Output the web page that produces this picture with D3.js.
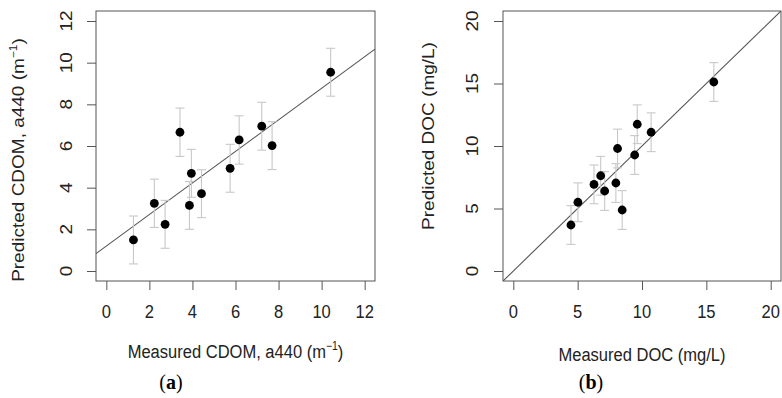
<!DOCTYPE html>
<html><head><meta charset="utf-8">
<script src="https://cdn.jsdelivr.net/npm/d3@7"></script>
<style>body{margin:0;background:#fff}svg{display:block}</style>
</head><body><svg id="c" width="782" height="398"></svg>
<script>
// Panel (a): CDOM
const cdomMeasured  = [1.26, 2.23, 2.73, 3.42, 3.86, 3.95, 4.42, 5.75, 6.17, 7.22, 7.70, 10.42];
const cdomPredicted = [1.49, 3.25, 2.24, 6.66, 3.15, 4.69, 3.71, 4.93, 6.29, 6.95, 6.02, 9.54];
const cdomError     = [1.15, 1.16, 1.15, 1.16, 1.15, 1.15, 1.15, 1.15, 1.16, 1.15, 1.15, 1.15];
const cdomFit       = [1.2, 0.757]; // intercept, slope
const cdomTicks     = [0, 2, 4, 6, 8, 10, 12];
// Panel (b): DOC
const docMeasured   = [4.48, 5.02, 6.27, 6.79, 7.10, 7.97, 8.10, 8.46, 9.43, 9.63, 10.71, 15.58];
const docPredicted  = [3.68, 5.50, 6.93, 7.62, 6.40, 7.04, 9.80, 4.88, 9.28, 11.74, 11.10, 15.12];
const docError      = [1.55, 1.55, 1.55, 1.55, 1.55, 1.55, 1.55, 1.55, 1.55, 1.55, 1.55, 1.55];
const docFit        = [0, 1];
const docTicks      = [0, 5, 10, 15, 20];

const svg = d3.select("#c");
const FS = 19, SX = 0.87;
const SANS = "Liberation Sans, Arial, sans-serif";

function hText(g, x, y){
  return g.append("text").attr("transform",`translate(${x},${y}) scale(${SX},1)`)
    .attr("text-anchor","middle").style("font-family",SANS).style("font-size",FS+"px").attr("fill","#222");
}
function vText(g, x, y){
  return g.append("text").attr("transform",`translate(${x},${y}) rotate(-90) scale(1,${SX})`)
    .attr("text-anchor","middle").style("font-family",SANS).style("font-size",FS+"px").attr("fill","#222");
}

function panel(o){
  const x = d3.scaleLinear().domain(o.dom).range([o.x0, o.x1]);
  const y = d3.scaleLinear().domain(o.dom).range([o.y1, o.y0]);
  const g = svg.append("g");
  // tick marks
  const xa = g.append("g").attr("transform",`translate(0,${o.y1})`)
    .call(d3.axisBottom(x).tickValues(o.ticks).tickSize(9).tickFormat(""));
  const ya = g.append("g").attr("transform",`translate(${o.x0},0)`)
    .call(d3.axisLeft(y).tickValues(o.ticks).tickSize(9).tickFormat(""));
  [xa, ya].forEach(a => { a.select(".domain").remove(); a.selectAll("line").attr("stroke","#555"); a.selectAll("text").remove(); });
  // tick labels
  o.ticks.forEach(t => {
    hText(g, x(t), 318).text(d3.format("d")(t));
    vText(g, o.ylabX, y(t)).attr("dy","0.36em").text(d3.format("d")(t));
  });
  // clip
  const cid = "clip"+o.id;
  svg.append("clipPath").attr("id",cid).append("rect").attr("x",o.x0).attr("y",o.y0).attr("width",o.x1-o.x0).attr("height",o.y1-o.y0);
  const pg = g.append("g").attr("clip-path",`url(#${cid})`);
  // fit line
  const d0 = o.dom[0], d1 = o.dom[1];
  pg.append("line").attr("x1",x(d0)).attr("y1",y(o.fit[0]+o.fit[1]*d0)).attr("x2",x(d1)).attr("y2",y(o.fit[0]+o.fit[1]*d1))
    .attr("stroke","#555").attr("stroke-width",1.1);
  // error bars
  const idx = d3.range(o.mx.length);
  const eb = g.append("g").attr("stroke","#c8c8c8").attr("stroke-width",1.1);
  idx.forEach(i=>{
    const cx = x(o.mx[i]), t = y(o.py[i]+o.err[i]), b = y(o.py[i]-o.err[i]);
    eb.append("line").attr("x1",cx).attr("x2",cx).attr("y1",t).attr("y2",b);
    eb.append("line").attr("x1",cx-4.5).attr("x2",cx+4.5).attr("y1",t).attr("y2",t);
    eb.append("line").attr("x1",cx-4.5).attr("x2",cx+4.5).attr("y1",b).attr("y2",b);
  });
  g.append("g").selectAll("circle").data(idx).join("circle")
    .attr("cx",i=>x(o.mx[i])).attr("cy",i=>y(o.py[i])).attr("r",4.4).attr("fill","#000");
  // box
  g.append("rect").attr("x",o.x0).attr("y",o.y0).attr("width",o.x1-o.x0).attr("height",o.y1-o.y0)
    .attr("fill","none").attr("stroke","#555").attr("stroke-width",1);
  // titles
  o.xtitle(hText(g, (o.x0+o.x1)/2, o.xtY));
  o.ytitle(vText(g, o.ytX, o.ytC));
  svg.append("text").attr("transform",`translate(${o.tagX},389) scale(1,1.1)`).attr("text-anchor","middle")
    .style("font-family","Liberation Serif, 'DejaVu Serif', serif").style("font-size","20px").attr("fill","#000")
    .call(t=>{t.append("tspan").text("(");t.append("tspan").style("font-weight","bold").text(o.tag);t.append("tspan").text(")");});
}
function supTitle(pre){
  return t => { t.append("tspan").text(pre+" (m"); t.append("tspan").attr("dy",-8).style("font-size","12px").text("\u22121"); t.append("tspan").attr("dy",8).text(")"); };
}
panel({id:"a", dom:[-0.48,12.48], x0:96, x1:375, y0:11, y1:281, ticks:cdomTicks, mx:cdomMeasured, py:cdomPredicted, err:cdomError, fit:cdomFit,
  ylabX:66, xtY:358, ytX:24, ytC:160, tagX:171, tag:"a",
  xtitle: supTitle("Measured CDOM, a440"), ytitle: supTitle("Predicted CDOM, a440")});
panel({id:"b", dom:[-0.8,20.8], x0:503, x1:781, y0:11, y1:281, ticks:docTicks, mx:docMeasured, py:docPredicted, err:docError, fit:docFit,
  ylabX:472, xtY:361, ytX:434, ytC:136, tagX:591, tag:"b",
  xtitle: t=>t.text("Measured DOC (mg/L)"), ytitle: t=>t.text("Predicted DOC (mg/L)")});
</script></body></html>
